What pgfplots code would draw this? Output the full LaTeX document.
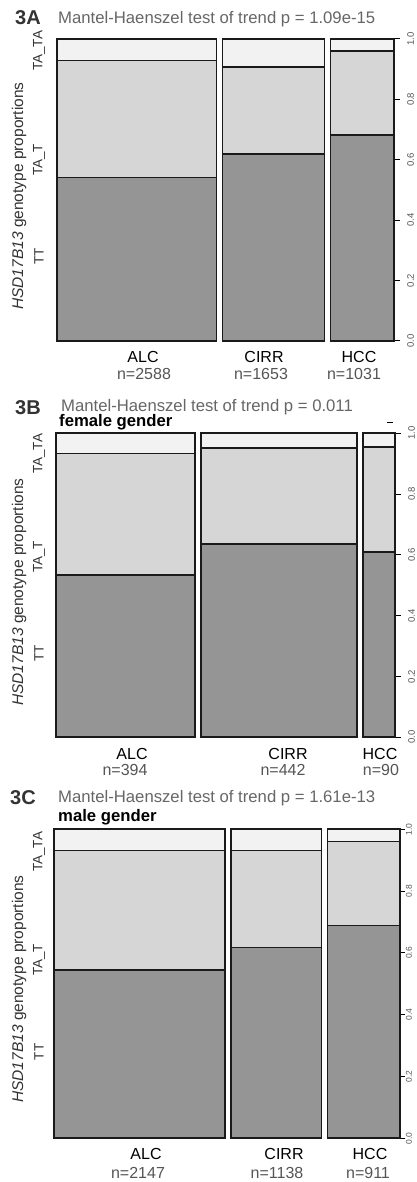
\documentclass[border=0pt]{standalone}
\usepackage{pgfplots}
\pgfplotsset{compat=1.18}
\usepackage{fontspec}
\setmainfont{Liberation Sans}
\definecolor{cTT}{HTML}{959595}
\definecolor{cTAT}{HTML}{D6D6D6}
\definecolor{cTATA}{HTML}{F2F2F2}
\definecolor{edge}{HTML}{1A1A1A}
\definecolor{titlegray}{HTML}{666666}
\definecolor{ngray}{HTML}{555555}
\definecolor{dark}{HTML}{333333}

\newcommand{\seg}[5]{\addplot[draw=edge, line width=1.6pt, fill=#5, line join=miter] coordinates {(#1,#3) (#2,#3) (#2,#4) (#1,#4)} -- cycle;}
\newcommand{\mbar}[4]{\seg{#1}{#2}{0}{#3}{cTT}\seg{#1}{#2}{#3}{#4}{cTAT}\seg{#1}{#2}{#4}{1}{cTATA}}

\pgfplotsset{mosaic/.style={scale only axis, clip=false, ymin=0, ymax=1,
  axis x line=none, axis y line*=right, xtick=\empty,
  ytick={0,0.2,0.4,0.6,0.8,1}, yticklabels={0.0,0.2,0.4,0.6,0.8,1.0},
  tick align=outside, major tick length=6pt,
  y axis line style={line width=1pt, black},
  ytick style={line width=1pt, black},
  yticklabel style={rotate=90, anchor=north, inner ysep=7pt, inner xsep=0pt, font=\fontsize{9.5}{10}\selectfont, text=ngray},
  anchor=south west}}

\tikzset{lab/.style={inner sep=0pt}}
\newcommand{\tfont}{\fontsize{16.7}{18}\selectfont}
\newcommand{\xfont}{\fontsize{16}{18}\selectfont}
\newcommand{\cfont}{\fontsize{13.5}{15}\selectfont}
\newcommand{\yfont}{\fontsize{15.5}{17}\selectfont}

\begin{document}
\begin{tikzpicture}
\useasboundingbox (0,0) rectangle (416pt,1182pt);

% ---------------- Panel A ----------------
\begin{axis}[mosaic, at={(57pt,841pt)}, width=337pt, height=302pt, xmin=57, xmax=394]
% ALC n=2588, CIRR n=1653, HCC n=1031
\mbar{57}{216.54}{0.541}{0.929}
\mbar{222.54}{324.44}{0.620}{0.907}
\mbar{330.44}{394}{0.683}{0.961}
\end{axis}
\node[lab, anchor=base west, font=\bfseries\fontsize{20}{22}\selectfont, text=dark] at (15pt,1157pt) {3A};
\node[lab, anchor=base west, font=\tfont, text=titlegray] at (58pt,1158pt) {Mantel-Haenszel test of trend p = 1.09e-15};
\node[lab, rotate=90, font=\yfont, text=dark] at (19pt,986pt) {\textit{HSD17B13} genotype proportions};
\node[lab, rotate=90, font=\cfont, text=dark] at (39pt,925.6pt) {TT};
\node[lab, rotate=90, font=\cfont, text=dark] at (39pt,1022pt) {TA\_T};
\node[lab, rotate=90, font=\cfont, text=dark] at (39pt,1131pt) {TA\_TA};
\node[lab, anchor=base, font=\xfont] at (143pt,819pt) {ALC};
\node[lab, anchor=base, font=\xfont, text=ngray] at (144pt,802pt) {n=2588};
\node[lab, anchor=base, font=\xfont] at (264pt,819pt) {CIRR};
\node[lab, anchor=base, font=\xfont, text=ngray] at (261pt,802pt) {n=1653};
\node[lab, anchor=base, font=\xfont] at (359pt,819pt) {HCC};
\node[lab, anchor=base, font=\xfont, text=ngray] at (354pt,802pt) {n=1031};

% ---------------- Panel B ----------------
\begin{axis}[mosaic, at={(56pt,444.7pt)}, width=339pt, height=304pt, xmin=56, xmax=395]
% ALC n=394, CIRR n=442, HCC n=90
\mbar{56}{195.13}{0.533}{0.934}
\mbar{201.13}{357.21}{0.636}{0.952}
\mbar{363.21}{395}{0.609}{0.954}
\end{axis}
\draw[line width=1pt] (387pt,759pt) -- (393pt,759pt);
\node[lab, anchor=base west, font=\bfseries\fontsize{20}{22}\selectfont, text=dark] at (15pt,767pt) {3B};
\node[lab, anchor=base west, font=\tfont, text=titlegray] at (61pt,770pt) {Mantel-Haenszel test of trend p = 0.011};
\node[lab, anchor=base west, font=\bfseries\tfont, text=black] at (59pt,755pt) {female gender};
\node[lab, rotate=90, font=\yfont, text=dark] at (19pt,590pt) {\textit{HSD17B13} genotype proportions};
\node[lab, rotate=90, font=\cfont, text=dark] at (39pt,528.9pt) {TT};
\node[lab, rotate=90, font=\cfont, text=dark] at (39pt,625pt) {TA\_T};
\node[lab, rotate=90, font=\cfont, text=dark] at (39pt,728pt) {TA\_TA};
\node[lab, anchor=base, font=\xfont] at (132pt,422pt) {ALC};
\node[lab, anchor=base, font=\xfont, text=ngray] at (125pt,406pt) {n=394};
\node[lab, anchor=base, font=\xfont] at (288pt,422pt) {CIRR};
\node[lab, anchor=base, font=\xfont, text=ngray] at (283pt,406pt) {n=442};
\node[lab, anchor=base, font=\xfont] at (380pt,422pt) {HCC};
\node[lab, anchor=base, font=\xfont, text=ngray] at (381pt,406pt) {n=90};

% ---------------- Panel C ----------------
\begin{axis}[mosaic, at={(54pt,43.7pt)}, width=346pt, height=309pt, xmin=54, xmax=400,
  major tick length=5pt,
  yticklabel style={inner ysep=0.8pt, font=\fontsize{8.5}{9}\selectfont}]
% ALC n=2147, CIRR n=1138, HCC n=911
\mbar{54}{224.90}{0.544}{0.931}
\mbar{230.90}{321.48}{0.618}{0.932}
\mbar{327.48}{400}{0.689}{0.961}
\end{axis}
\node[lab, anchor=base west, font=\bfseries\fontsize{20}{22}\selectfont, text=dark] at (10pt,377pt) {3C};
\node[lab, anchor=base west, font=\tfont, text=titlegray] at (58pt,379pt) {Mantel-Haenszel test of trend p = 1.61e-13};
\node[lab, anchor=base west, font=\bfseries\tfont, text=black] at (58pt,360pt) {male gender};
\node[lab, rotate=90, font=\yfont, text=dark] at (19pt,193pt) {\textit{HSD17B13} genotype proportions};
\node[lab, rotate=90, font=\cfont, text=dark] at (39pt,130.2pt) {TT};
\node[lab, rotate=90, font=\cfont, text=dark] at (39pt,222pt) {TA\_T};
\node[lab, rotate=90, font=\cfont, text=dark] at (39pt,330pt) {TA\_TA};
\node[lab, anchor=base, font=\xfont] at (146pt,22pt) {ALC};
\node[lab, anchor=base, font=\xfont, text=ngray] at (138pt,4pt) {n=2147};
\node[lab, anchor=base, font=\xfont] at (284pt,22pt) {CIRR};
\node[lab, anchor=base, font=\xfont, text=ngray] at (277pt,4pt) {n=1138};
\node[lab, anchor=base, font=\xfont] at (370pt,22pt) {HCC};
\node[lab, anchor=base, font=\xfont, text=ngray] at (368pt,4pt) {n=911};
\end{tikzpicture}
\end{document}
